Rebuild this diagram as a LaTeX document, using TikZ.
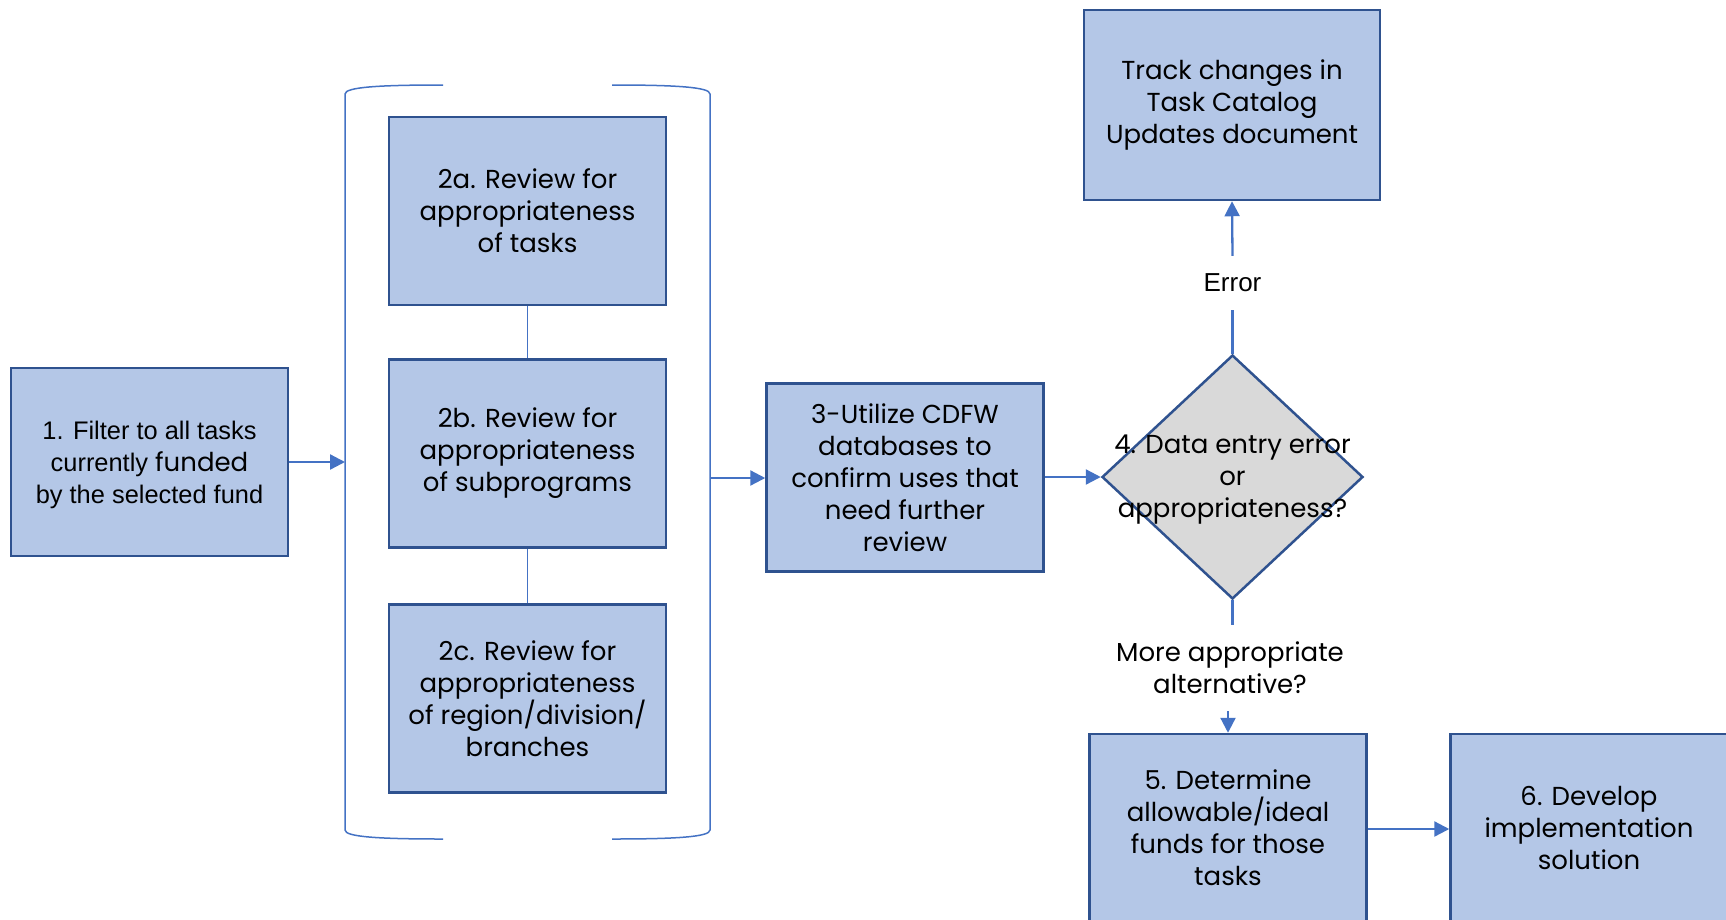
\documentclass[tikz,border=0pt]{standalone}
\usepackage{fontspec}
\setmainfont{Poppins}
\newfontfamily\arialf{Liberation Sans}
\usetikzlibrary{arrows.meta,shapes.geometric}
\definecolor{boxfill}{HTML}{B4C7E7}
\definecolor{boxline}{HTML}{2F528F}
\definecolor{conn}{HTML}{4472C4}
\definecolor{dfill}{HTML}{D9D9D9}
\tikzset{
  box/.style={draw=boxline, fill=boxfill, line width=2.5pt, inner sep=0pt,
    minimum width=277pt, minimum height=188pt, align=center,
    font=\fontsize{26}{32}\selectfont},
  dec/.style={draw=boxline, fill=dfill, line width=2.5pt, shape=diamond, inner sep=0pt,
    minimum width=261pt, minimum height=244pt},
  lbl/.style={inner sep=0pt, align=center, font=\fontsize{26}{32}\selectfont},
  arr/.style={draw=conn, line width=2.3pt, -{Triangle[length=15pt,width=15pt]}},
  cline/.style={draw=conn, line width=2.3pt},
  thinline/.style={draw=conn, line width=1.5pt},
}
\begin{document}
\begin{tikzpicture}[x=1pt,y=-1pt]
\useasboundingbox (0,0) rectangle (1726,919);
\clip (0,0) rectangle (1726,919);
\fill[white] (0,0) rectangle (1726,919);
% bracket
\draw[thinline] (443,85) .. controls (380,85) and (345,87) .. (345,94) -- (345,830) .. controls (345,837) and (380,839) .. (443,839);
\draw[thinline] (612,85) .. controls (675,85) and (710,87) .. (710,94) -- (710,830) .. controls (710,837) and (675,839) .. (612,839);
\coordinate (brL) at (345,462);
\coordinate (brR) at (710,478);
% nodes
\node[box] (b1) at (149.5,462) {};
\node[lbl, font=\arialf\fontsize{25.4}{32}\selectfont] (b1t) at (149.5,465) {1. Filter to all tasks\\currently {\rmfamily\fontsize{26}{32}\selectfont funded}\\by the selected fund};
\node[box] (b2a) at (527.5,211) {2a. Review for\\appropriateness\\of tasks};
\node[box] (b2b) at (527.5,453.5) {2b. Review for\\appropriateness\\of subprograms};
\node[box] (b2c) at (527.5,698.5) {2c. Review for\\appropriateness\\of region/division/\\branches};
\node[box] (b3) at (905,477.5) {3-Utilize CDFW\\databases to\\confirm uses that\\need further\\review};
\node[dec] (d) at (1232.5,477) {};
\node[lbl] (dt) at (1232.5,480) {4. Data entry error\\or\\appropriateness?};
\node[box, minimum width=296pt, minimum height=190pt] (tr) at (1232,105) {Track changes in\\Task Catalog\\Updates document};
\node[lbl, font=\arialf\fontsize{26}{32}\selectfont, minimum height=54pt] (err) at (1232.5,283) {Error};
\node[lbl, minimum height=86pt] (alt) at (1230,668) {More appropriate\\alternative?};
\node[box, minimum height=187pt] (b5) at (1228,827.5) {5. Determine\\allowable/ideal\\funds for those\\tasks};
\node[box, minimum height=187pt] (b6) at (1589,827.5) {6. Develop\\implementation\\solution};
% connectors
\draw[arr] (b1.east |- brL) -- (brL);
\draw[arr] (brR) -- (b3.west |- brR);
\draw[arr] (b3.east |- d.west) -- (d.west);
\draw[cline] (d.north) -- (err.south);
\draw[arr] (err.north) -- (tr.south);
\draw[cline] (d.south) -- (d.south |- alt.north);
\draw[arr] (alt.south -| b5.north) -- (b5.north);
\draw[arr] (b5.east |- 0,829) -- (b6.west |- 0,829);
\draw[thinline] (b2a.south) -- (b2b.north);
\draw[thinline] (b2b.south) -- (b2c.north);
\end{tikzpicture}
\end{document}
